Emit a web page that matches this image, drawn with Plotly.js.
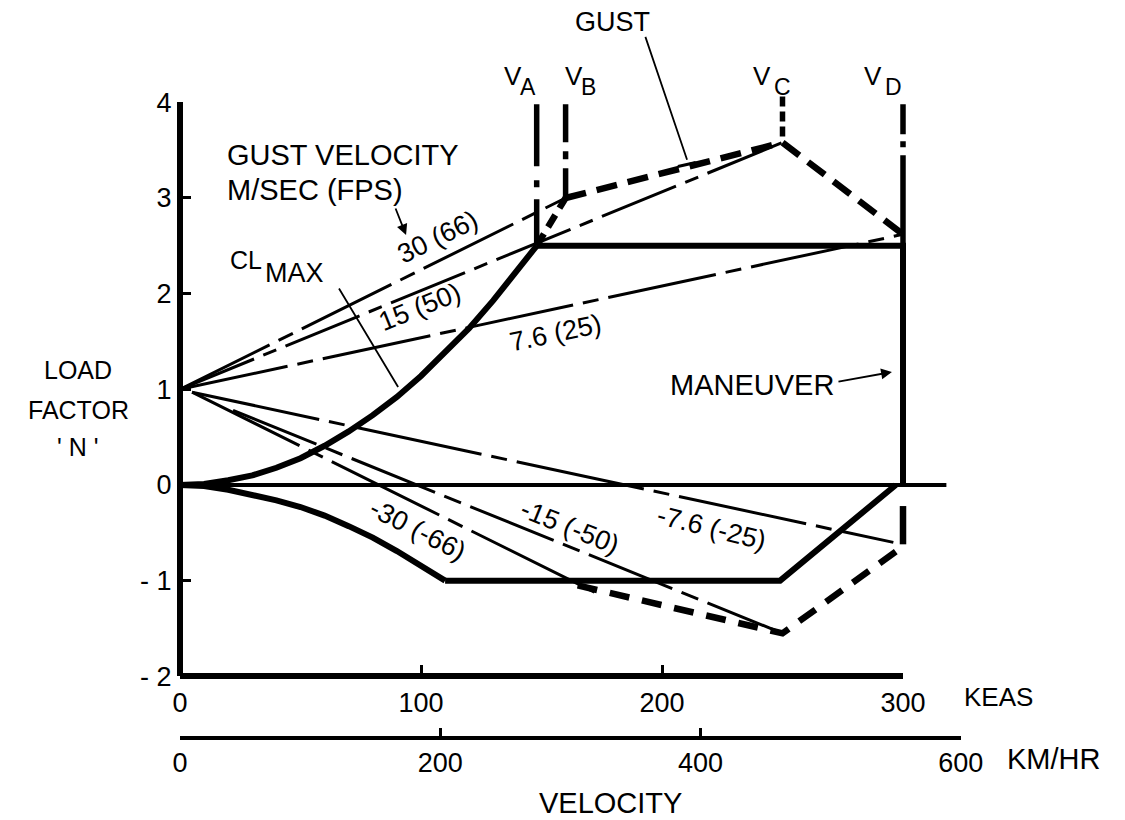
<!DOCTYPE html>
<html>
<head>
<meta charset="utf-8">
<script src="https://cdn.plot.ly/plotly-3.0.1.min.js"></script>
<style>
html,body{margin:0;padding:0;background:#ffffff;}
#chart{width:1125px;height:820px;}
</style>
</head>
<body>
<div id="chart"></div>
<script>
// ---------------- data (KEAS, load factor n) ----------------
const stallPosV = [0, 10, 20, 30, 40, 50, 60, 70, 80, 90, 100, 110, 120, 130, 140, 148];
const stallPosN = [0, 0.01, 0.05, 0.10, 0.18, 0.28, 0.41, 0.56, 0.73, 0.92, 1.14, 1.38, 1.64, 1.93, 2.24, 2.50];
const stallExtV = [148, 154, 160];
const stallExtN = [2.50, 2.74, 3.00];
const stallNegV = [0, 10, 20, 30, 40, 50, 60, 70, 80, 90, 100, 105, 110];
const stallNegN = [0, -0.01, -0.05, -0.10, -0.16, -0.23, -0.32, -0.43, -0.55, -0.69, -0.84, -0.93, -1.00];
const manPosV = [148, 300, 300];
const manPosN = [2.5, 2.5, 0];
const manNegV = [110, 249, 297];
const manNegN = [-1, -1, 0];
const gustPosV = [160, 250, 300];
const gustPosN = [3.00, 3.58, 2.62];
const gustNegV = [165, 250, 299];
const gustNegN = [-1.05, -1.55, -0.66];
const g30V = [0, 160];   const g30N = [1, 3.00];
const g15V = [0, 250];   const g15N = [1, 3.58];
const g7V  = [0, 300];   const g7N  = [1, 2.62];
const gm30V = [5, 172];  const gm30N = [0.97, -1.12];
const gm15V = [22, 250]; const gm15N = [0.78, -1.55];
const gm7V  = [5, 296];  const gm7N  = [0.97, -0.60];
const zeroV = [0, 318];  const zeroN = [0, 0];
const vNames  = ['A', 'B', 'C', 'D'];
const vSpeeds = [148, 160, 250, 300];
const vTop    = [3.98, 3.98, 4.06, 3.98];
const vBottom = [2.50, 3.00, 3.60, 2.50];
const vdLowN  = [-0.22, -0.62];
const keasTicks = [0, 100, 200, 300];
const kmhTicks  = [0, 200, 400, 600];
const nTicks    = [-2, -1, 0, 1, 2, 3, 4];
const nTickText = ['- 2', '- 1', '0', '1', '2', '3', '4'];

// ---------------- geometry ----------------
const W = 1125, H = 820;
const X0 = 180, PXV = 2.41;      // pixel of V=0, px per knot
const Y0 = 485, PXN = 95.67;     // pixel of n=0, px per unit n
const FONT = 'Liberation Sans, Arial, sans-serif';
const K = '#000000';

function ln(x, y, w, dash) {
  return {type: 'scatter', mode: 'lines', x: x, y: y, xaxis: 'x', yaxis: 'y',
    line: {color: K, width: w, dash: dash || 'solid', shape: 'linear'},
    hoverinfo: 'skip', showlegend: false};
}

const traces = [
  ln(zeroV, zeroN, 3.8),
  ln(g30V, g30N, 3, '100px,10px,16px,10px'),
  ln(g15V, g15N, 3, '80px,10px,14px,10px'),
  ln(g7V, g7N, 3, '110px,10px,16px,10px'),
  ln(gm30V, gm30N, 3, '120px,10px,16px,10px'),
  ln(gm15V, gm15N, 3, '90px,10px,18px,10px'),
  ln(gm7V, gm7N, 3, '130px,10px,16px,10px'),
  ln(stallPosV, stallPosN, 6),
  ln(stallExtV, stallExtN, 6.5, '14px,8px'),
  ln(stallNegV, stallNegN, 6),
  ln(manPosV, manPosN, 6),
  ln(manNegV, manNegN, 6),
  ln(gustPosV, gustPosN, 6.5, '21px,11px'),
  ln(gustNegV, gustNegN, 6.5, '20px,13px')
];
const vDash = ['62px,14px,7px,12px', '38px,9px,8px,9px', '10px,5px', '30px,7px,6px,8px,400px'];
vSpeeds.forEach(function (v, i) {
  traces.push(ln([v, v], [vTop[i], vBottom[i]], 5.5, vDash[i]));
});
traces.push(ln([vSpeeds[3], vSpeeds[3]], vdLowN, 6.5));

// invisible anchors so the secondary axes exist
traces.push({type: 'scatter', mode: 'markers', x: [0], y: [0], xaxis: 'x2', yaxis: 'y', marker: {opacity: 0}, hoverinfo: 'skip', showlegend: false});
traces.push({type: 'scatter', mode: 'markers', x: [0], y: [0], xaxis: 'x3', yaxis: 'y', marker: {opacity: 0}, hoverinfo: 'skip', showlegend: false});
traces.push({type: 'scatter', mode: 'markers', x: [0], y: [0], xaxis: 'x', yaxis: 'y2', marker: {opacity: 0}, hoverinfo: 'skip', showlegend: false});

function ann(text, x, y, o) {
  const a = {text: text, x: x, y: y, xref: 'x', yref: 'y', showarrow: false,
    font: {family: FONT, size: 27, color: K}, xanchor: 'center', yanchor: 'middle'};
  return Object.assign(a, o || {});
}
function f(size) { return {family: FONT, size: size, color: K}; }
function arrow(tipX, tipY, tailX, tailY, head) {
  return {text: '', x: tipX, y: tipY, xref: 'x', yref: 'y', ax: tailX, ay: tailY, axref: 'x', ayref: 'y',
    showarrow: true, arrowhead: head, arrowsize: 1.2, arrowwidth: 1.8, arrowcolor: K, standoff: 0, startstandoff: 0};
}

const annotations = [
  ann('GUST', 179.3, 4.84, {font: f(27)}),
  ann('GUST VELOCITY', 18.7, 3.449, {xanchor: 'left', font: f(29)}),
  ann('M/SEC (FPS)', 18.7, 3.084, {xanchor: 'left', font: f(29)}),
  ann('C', 19.9, 2.352, {xanchor: 'left', font: f(25)}),
  ann('L', 27.2, 2.352, {xanchor: 'left', font: f(25)}),
  ann('MAX', 34.4, 2.216, {xanchor: 'left', font: f(27)}),
  ann('MANEUVER', 202.5, 1.045, {xanchor: 'left', font: f(29)}),
  ann('LOAD', -42.3, 1.202, {font: f(25)}),
  ann('FACTOR', -42.3, 0.784, {font: f(25)}),
  ann("' N '", -42.3, 0.397, {font: f(25)}),
  ann('30 (66)', 107.0, 2.592, {textangle: -26, font: f(27)}),
  ann('15 (50)', 99.6, 1.86, {textangle: -22, font: f(27)}),
  ann('7.6 (25)', 156.0, 1.589, {textangle: -12, font: f(27)}),
  ann('-30 (-66)', 98.8, -0.470, {textangle: 27, font: f(27)}),
  ann('-15 (-50)', 161.8, -0.439, {textangle: 22, font: f(27)}),
  ann('-7.6 (-25)', 220.7, -0.449, {textangle: 14, font: f(27)}),
  ann('KEAS', 324.5, -2.216, {xanchor: 'left', font: f(26)}),
  ann('KM/HR', 342.3, -2.864, {xanchor: 'left', font: f(29)}),
  ann('VELOCITY', 178.8, -3.324, {font: f(29)}),
  arrow(93.8, 2.613, 89.2, 2.906, 2),
  arrow(295.4, 1.181, 272.6, 1.077, 2),
  arrow(90.5, 1.024, 65.6, 2.07, 0),
  arrow(210.4, 3.40, 192.9, 4.70, 0)
];
// V_A ... V_D labels
const vLabelX  = [[138.0, 144.6], [163.3, 169.7], [241.5, 249.8], [287.6, 295.9]];
vNames.forEach(function (nm, i) {
  annotations.push(ann('V', vLabelX[i][0], 4.275, {font: f(26)}));
  annotations.push(ann(nm, vLabelX[i][1], 4.155, {font: f(23)}));
});

const layout = {
  width: W, height: H,
  margin: {l: 0, r: 0, t: 0, b: 0, pad: 0},
  paper_bgcolor: '#ffffff', plot_bgcolor: 'rgba(0,0,0,0)',
  showlegend: false, hovermode: false,
  font: {family: FONT, color: K},
  xaxis: {domain: [0, 1], range: [-X0 / PXV, (W - X0) / PXV], visible: false, fixedrange: true},
  yaxis: {domain: [0, 1], range: [-(H - Y0) / PXN, Y0 / PXN], visible: false, fixedrange: true},
  xaxis2: {
    domain: [X0 / W, (X0 + 300 * PXV) / W], range: [0, 300], anchor: 'free',
    position: (H - (Y0 + 2 * PXN)) / H, showline: true, linewidth: 6, linecolor: K,
    ticks: 'inside', ticklen: 8, tickwidth: 3, tickcolor: K, tickmode: 'array',
    tickvals: keasTicks, ticktext: keasTicks.map(String), tickfont: f(27),
    showgrid: false, zeroline: false, fixedrange: true
  },
  xaxis3: {
    domain: [X0 / W, (X0 + 600 / 1.852 * PXV) / W], range: [0, 600], anchor: 'free',
    position: (H - 738) / H, showline: true, linewidth: 4, linecolor: K,
    ticks: 'inside', ticklen: 8, tickwidth: 3, tickcolor: K, tickmode: 'array',
    tickvals: kmhTicks, ticktext: kmhTicks.map(String), tickfont: f(27),
    showgrid: false, zeroline: false, fixedrange: true
  },
  yaxis2: {
    domain: [(H - (Y0 + 2 * PXN)) / H, (H - (Y0 - 4 * PXN)) / H], range: [-2, 4], anchor: 'free',
    position: X0 / W, showline: true, linewidth: 6, linecolor: K,
    ticks: 'inside', ticklen: 8, tickwidth: 3, tickcolor: K, tickmode: 'array',
    tickvals: nTicks, ticktext: nTickText, tickfont: f(27),
    showgrid: false, zeroline: false, fixedrange: true
  },
  annotations: annotations,
  shapes: [
    {type: 'line', xref: 'x', yref: 'y', x0: 206.6, y0: 3.33, x1: 214.0, y1: 3.37, line: {color: K, width: 3}}
  ]
};

Plotly.newPlot('chart', traces, layout, {staticPlot: true, displayModeBar: false});
</script>
</body>
</html>
